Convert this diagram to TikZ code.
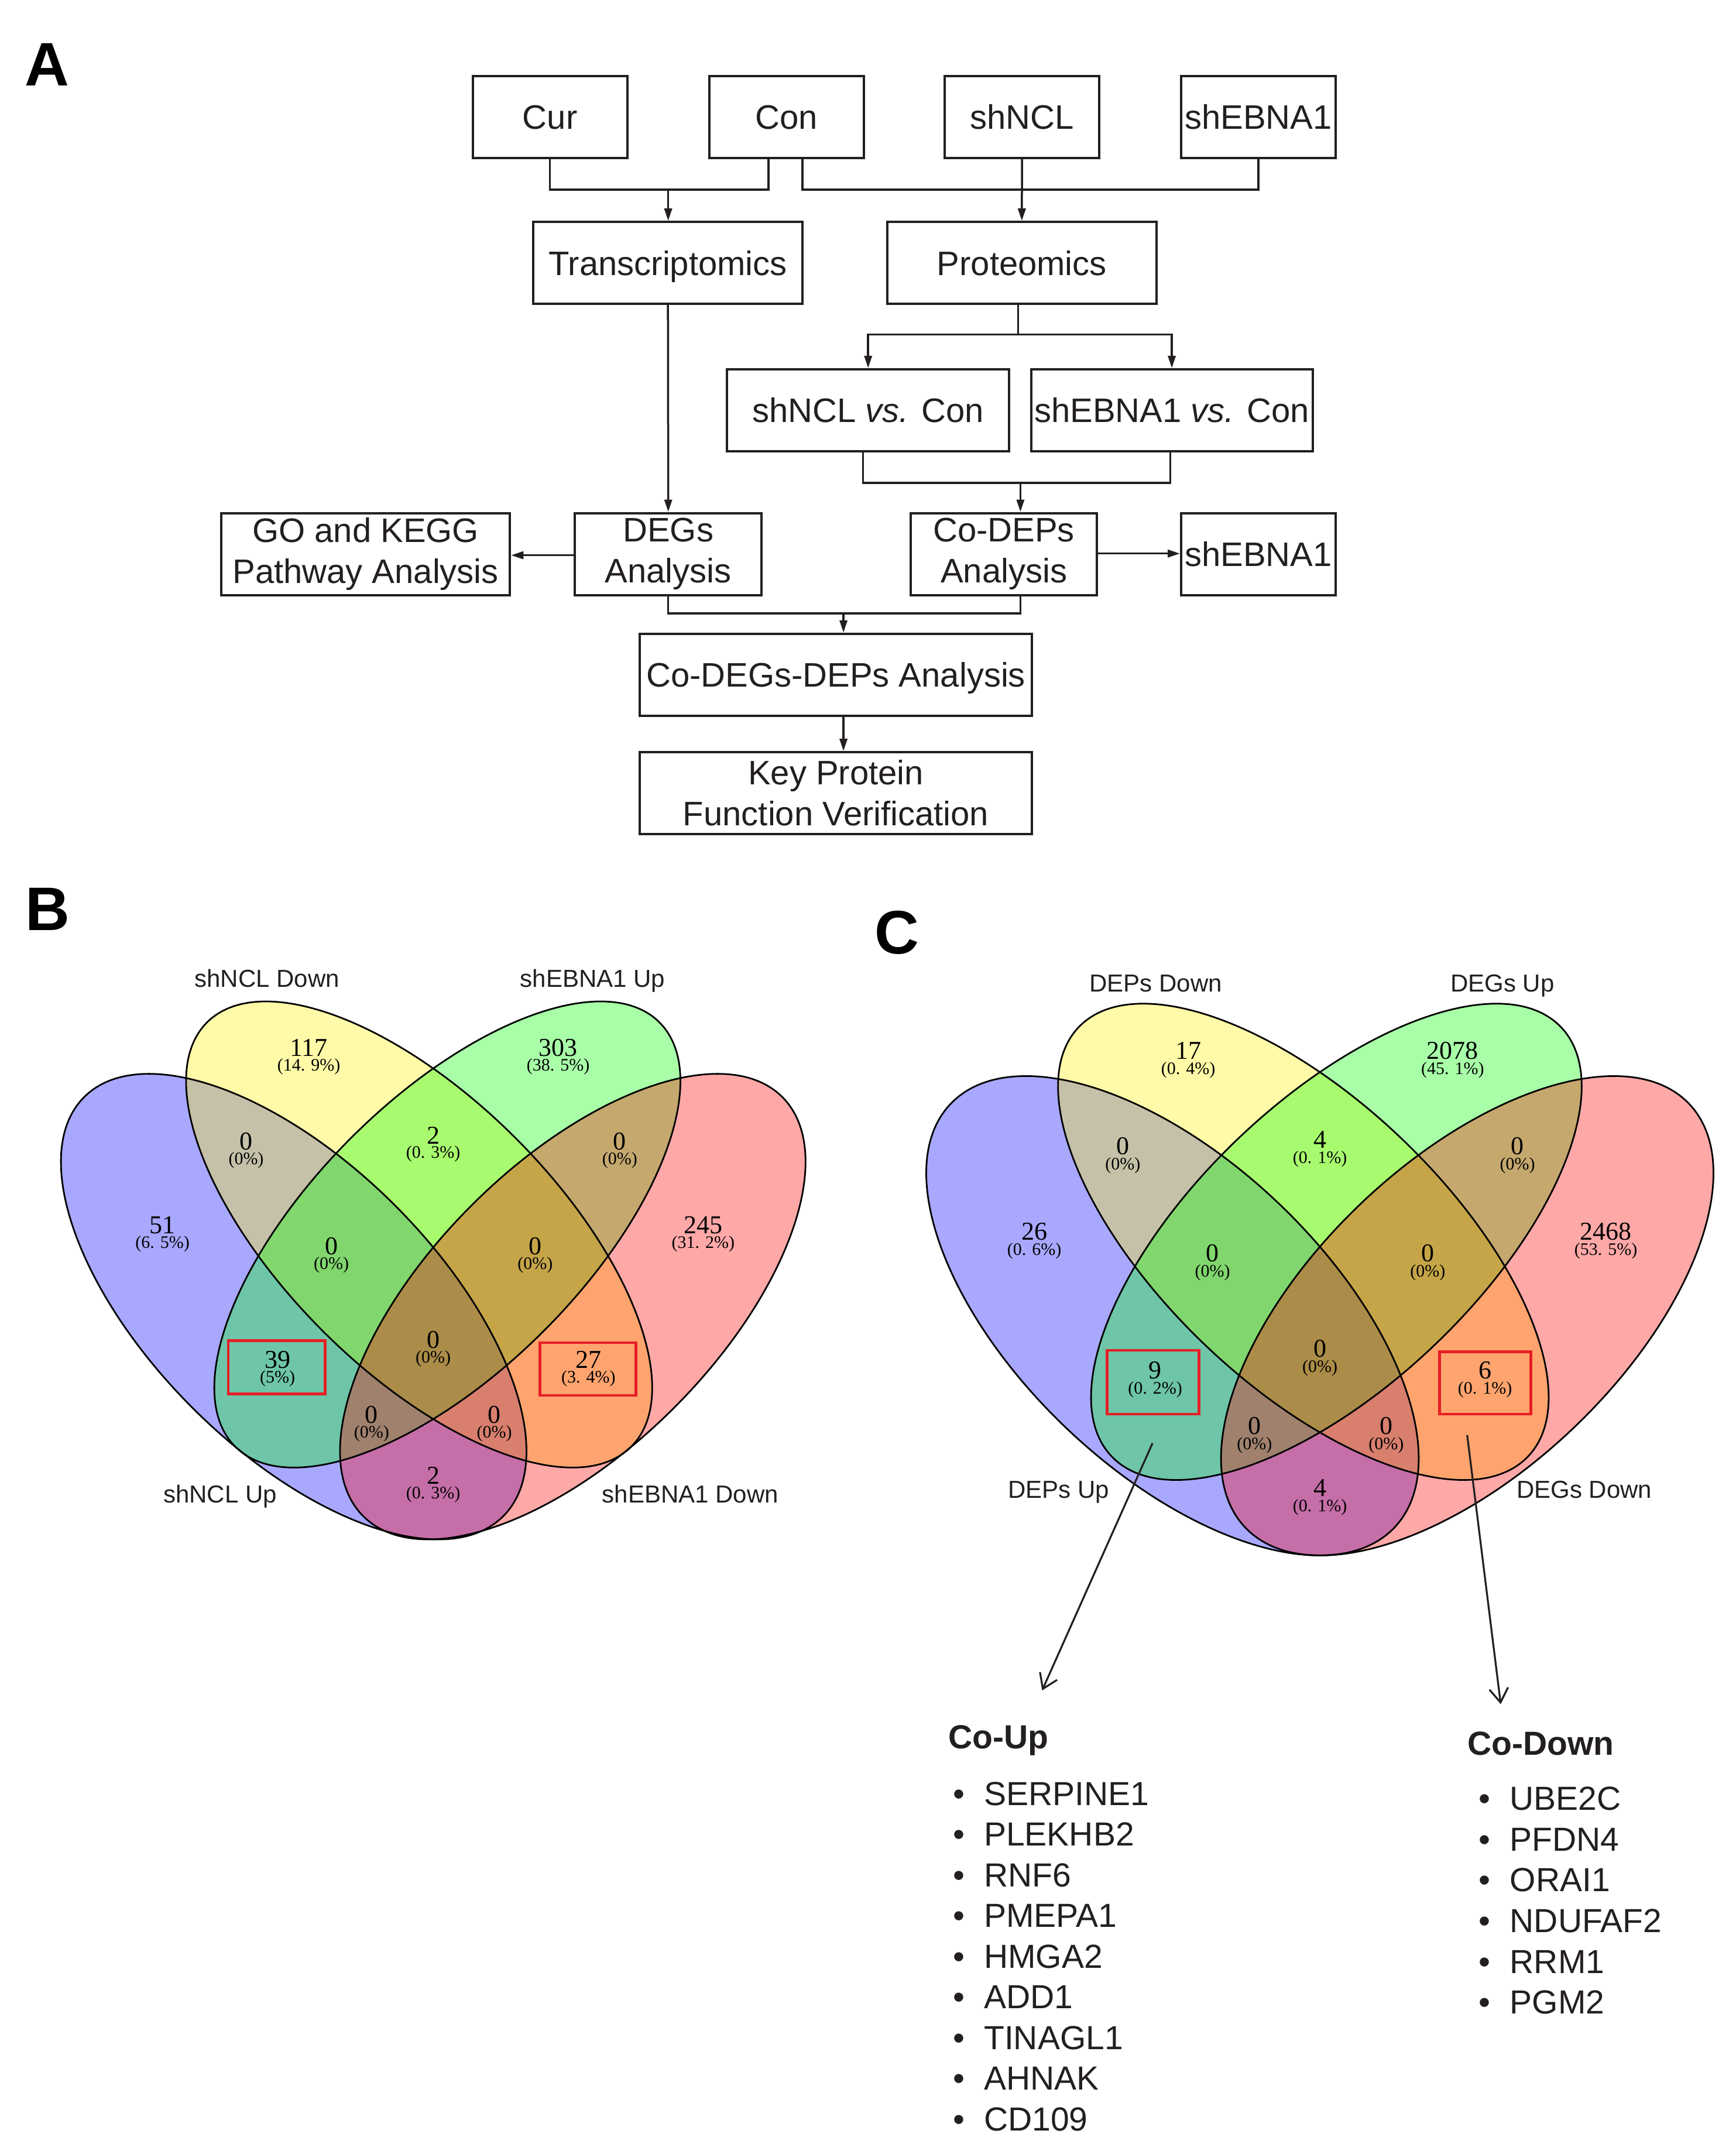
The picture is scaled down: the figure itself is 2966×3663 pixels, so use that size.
\documentclass[tikz,border=0pt]{standalone}
\usepackage{fontspec}
\setmainfont{Liberation Sans}
\newfontfamily\vennserif{Liberation Serif}
\usetikzlibrary{arrows.meta}
\newcommand\myboxfont{\fontsize{58}{70}\selectfont}
\newcommand\mypanelfont{\fontsize{105}{110}\selectfont\bfseries}
\newcommand\myvlabfont{\fontsize{42}{48}\selectfont}
\newcommand\mynumfont{\vennserif\fontsize{44}{48}\selectfont}
\newcommand\mypctfont{\vennserif\fontsize{30}{32}\selectfont}
\newcommand\mylistfont{\fontsize{57}{64}\selectfont}
\newcommand\myhdrfont{\fontsize{57}{64}\selectfont\bfseries}
\definecolor{txt}{RGB}{35,31,32}
\definecolor{hlred}{RGB}{230,30,36}
\begin{document}
\begin{tikzpicture}[x=1pt,y=-1pt,
 box/.style={draw=txt,text=txt,line width=4pt,inner sep=0pt,minimum height=140pt,font=\myboxfont,align=center},
 one/.style={text height=42pt,text depth=0pt},
 conn/.style={draw=txt,line width=3.5pt},
 arr/.style={draw=txt,line width=3.5pt,-{Triangle[length=21pt,width=13pt]}},
 vfill/.style={fill opacity=0.34},
 vline/.style={draw=black,line width=2.8pt},
 num/.style={font=\mynumfont,inner sep=0pt,text=black},
 pct/.style={font=\mypctfont,inner sep=0pt,text=black},
 vlab/.style={font=\myvlabfont,inner sep=0pt,anchor=base,text=txt},
 hl/.style={draw=hlred,line width=4.5pt},
 openarr/.style={draw=txt,line width=3.2pt,-{Straight Barb[length=24pt,width=32pt]}},
 li/.style={font=\mylistfont,inner sep=0pt,anchor=base west,text=txt},
 bul/.style={font=\mylistfont,inner sep=0pt,anchor=base,text=txt},
 hdr/.style={font=\myhdrfont,inner sep=0pt,anchor=base west,text=txt},
 panel/.style={font=\mypanelfont,inner sep=0pt}]
\fill[white] (0,0) rectangle (2966,3663);
\useasboundingbox (0,0) rectangle (2966,3663);

% ---------------- Panel A ----------------
\node[panel] (pA) at (80,110) {A};
\node[box,one,minimum width=264pt] (cur) at (939.7,199.5) {Cur};
\node[box,one,minimum width=264pt] (con) at (1343.5,199.5) {Con};
\node[box,one,minimum width=264pt] (shncl) at (1746.2,199.5) {shNCL};
\node[box,one,minimum width=264pt] (shebna) at (2150,199.5) {shEBNA1};
\node[box,one,minimum width=460pt] (trans) at (1141.2,449.2) {Transcriptomics};
\node[box,one,minimum width=460pt] (prot) at (1745.8,449.2) {Proteomics};
\node[box,one,minimum width=482pt] (vsa) at (1483.2,700.8) {shNCL \textit{vs.} Con};
\node[box,one,minimum width=481pt] (vsb) at (2002.1,700.8) {shEBNA1 \textit{vs.} Con};
\node[box,minimum width=493.2pt] (go) at (624.7,946.5) {GO and KEGG\\Pathway Analysis};
\node[box,minimum width=319.5pt] (degs) at (1141.7,946.5) {DEGs\\Analysis};
\node[box,minimum width=318.6pt] (codeps) at (1715.1,946.5) {Co-DEPs\\Analysis};
\node[box,one,minimum width=264pt] (shebnab) at (2150,946.5) {shEBNA1};
\node[box,one,minimum width=670.6pt] (codd) at (1428.1,1152.8) {Co-DEGs-DEPs Analysis};
\node[box,minimum width=670.6pt] (key) at (1428.1,1355.1) {Key Protein\\Function Verification};

\coordinate (jA) at (1141.6,323.9);
\coordinate (conL) at (1312.9,269.5);
\coordinate (conR) at (1371.2,269.5);
\coordinate (jB) at (1746.2,323.9);
\draw[conn] (cur.south) |- (jA) -| (conL);
\draw[arr] (jA) -- (jA |- trans.north);
\draw[conn] (conR) |- (jB) -| (shebna.south);
\draw[arr] (shncl.south) -- (prot.north);
\draw[arr] (trans.south) -- (degs.north);
\coordinate (jC) at (1739.5,571.6);
\draw[conn] (jC |- prot.south) -- (jC);
\draw[arr] (jC) -| (vsa.north);
\draw[arr] (jC) -| (vsb.north);
\coordinate (jD) at (1743.4,825.2);
\coordinate (vsaB) at (1474.5,770.8);
\coordinate (vsbB) at (1999.7,770.8);
\draw[conn] (vsaB) |- (jD) -| (vsbB);
\draw[arr] (jD) -- (jD |- codeps.north);
\coordinate (gA) at (1141.7,948.6);
\draw[arr] (degs.west |- gA) -- (go.east |- gA);
\draw[arr] (codeps.east |- 0,945.7) -- (shebnab.west |- 0,945.7);
\coordinate (jE) at (1441.1,1048);
\draw[conn] (degs.south) |- (jE) -| (jD |- codeps.south);
\draw[arr] (jE) -- (jE |- codd.north);
\draw[arr] (jE |- codd.south) -- (jE |- key.north);

% ---------------- Panel B ----------------
\node[panel] (pB) at (81,1553) {B};
\path[fill=blue,vfill,shift={(501.8,2232.3)},rotate=-45] (0,0) ellipse [x radius=506.3pt,y radius=244.6pt];
\path[fill=yellow,vfill,shift={(716.1,2109.1)},rotate=-45] (0,0) ellipse [x radius=512.5pt,y radius=233pt];
\path[fill=green,vfill,shift={(764.3,2109.1)},rotate=45] (0,0) ellipse [x radius=512.5pt,y radius=233pt];
\path[fill=red,vfill,shift={(978.6,2232.3)},rotate=45] (0,0) ellipse [x radius=506.3pt,y radius=244.6pt];
\path[vline,shift={(501.8,2232.3)},rotate=-45] (0,0) ellipse [x radius=506.3pt,y radius=244.6pt];
\path[vline,shift={(716.1,2109.1)},rotate=-45] (0,0) ellipse [x radius=512.5pt,y radius=233pt];
\path[vline,shift={(764.3,2109.1)},rotate=45] (0,0) ellipse [x radius=512.5pt,y radius=233pt];
\path[vline,shift={(978.6,2232.3)},rotate=45] (0,0) ellipse [x radius=506.3pt,y radius=244.6pt];

\node[vlab] (bl1) at (456.3,1686.6) {shNCL Down};
\node[vlab] (bl2) at (1012.5,1686.6) {shEBNA1 Up};
\node[vlab] (bl3) at (375.9,2567.9) {shNCL Up};
\node[vlab] (bl4) at (1179.5,2567.9) {shEBNA1 Down};

\node[num] (bn1) at (527.7,1790.4) {117}; \node[pct] (bp1) at (527.7,1822.5) {(14. 9\%)};
\node[num] (bn2) at (953.6,1790.4) {303}; \node[pct] (bp2) at (953.6,1822.5) {(38. 5\%)};
\node[num] (bn3) at (420.5,1950.2) {0}; \node[pct] (bp3) at (420.5,1982.3) {(0\%)};
\node[num] (bn4) at (740.2,1939.5) {2}; \node[pct] (bp4) at (740.2,1971.6) {(0. 3\%)};
\node[num] (bn5) at (1058.9,1950.2) {0}; \node[pct] (bp5) at (1058.9,1982.3) {(0\%)};
\node[num] (bn6) at (277.7,2093) {51}; \node[pct] (bp6) at (277.7,2125.2) {(6. 5\%)};
\node[num] (bn7) at (566.1,2128.8) {0}; \node[pct] (bp7) at (566.1,2160.9) {(0\%)};
\node[num] (bn8) at (914.3,2128.8) {0}; \node[pct] (bp8) at (914.3,2160.9) {(0\%)};
\node[num] (bn9) at (1201.4,2093) {245}; \node[pct] (bp9) at (1201.4,2125.2) {(31. 2\%)};
\node[num] (bn10) at (740.2,2289.5) {0}; \node[pct] (bp10) at (740.2,2321.6) {(0\%)};
\node[num] (bn11) at (474.1,2323.4) {39}; \node[pct] (bp11) at (474.1,2355.5) {(5\%)};
\node[num] (bn12) at (1005.4,2323.4) {27}; \node[pct] (bp12) at (1005.4,2355.5) {(3. 4\%)};
\node[num] (bn13) at (634.8,2417.1) {0}; \node[pct] (bp13) at (634.8,2449.3) {(0\%)};
\node[num] (bn14) at (844.6,2417.1) {0}; \node[pct] (bp14) at (844.6,2449.3) {(0\%)};
\node[num] (bn15) at (740.2,2520.7) {2}; \node[pct] (bp15) at (740.2,2552.9) {(0. 3\%)};
\draw[hl] (390.2,2290.4) rectangle (555.4,2381.4);
\draw[hl] (922.7,2293.9) rectangle (1086.6,2384.1);

% ---------------- Panel C ----------------
\node[panel] (pC) at (1532,1593) {C};
\path[fill=blue,vfill,shift={(2003.2,2247.9)},rotate=-43.7] (0,0) ellipse [x radius=524.2pt,y radius=264.1pt];
\path[fill=yellow,vfill,shift={(2226.8,2121.6)},rotate=-43.7] (0,0) ellipse [x radius=530.9pt,y radius=243.4pt];
\path[fill=green,vfill,shift={(2283.2,2121.6)},rotate=43.7] (0,0) ellipse [x radius=530.9pt,y radius=243.4pt];
\path[fill=red,vfill,shift={(2506.8,2247.9)},rotate=43.7] (0,0) ellipse [x radius=524.2pt,y radius=264.1pt];
\path[vline,shift={(2003.2,2247.9)},rotate=-43.7] (0,0) ellipse [x radius=524.2pt,y radius=264.1pt];
\path[vline,shift={(2226.8,2121.6)},rotate=-43.7] (0,0) ellipse [x radius=530.9pt,y radius=243.4pt];
\path[vline,shift={(2283.2,2121.6)},rotate=43.7] (0,0) ellipse [x radius=530.9pt,y radius=243.4pt];
\path[vline,shift={(2506.8,2247.9)},rotate=43.7] (0,0) ellipse [x radius=524.2pt,y radius=264.1pt];

\node[vlab] (cl1) at (1974.6,1694.9) {DEPs Down};
\node[vlab] (cl2) at (2566.7,1694.9) {DEGs Up};
\node[vlab] (cl3) at (1808.6,2559.9) {DEPs Up};
\node[vlab] (cl4) at (2706.8,2559.9) {DEGs Down};

\node[num] (cn1) at (2030,1795.2) {17}; \node[pct] (cp1) at (2030,1828.4) {(0. 4\%)};
\node[num] (cn2) at (2481.8,1795.2) {2078}; \node[pct] (cp2) at (2481.8,1828.4) {(45. 1\%)};
\node[num] (cn3) at (1918.4,1958.4) {0}; \node[pct] (cp3) at (1918.4,1991.6) {(0\%)};
\node[num] (cn4) at (2255,1947.3) {4}; \node[pct] (cp4) at (2255,1980.5) {(0. 1\%)};
\node[num] (cn5) at (2592.5,1958.4) {0}; \node[pct] (cp5) at (2592.5,1991.6) {(0\%)};
\node[num] (cn6) at (1767.1,2104.1) {26}; \node[pct] (cp6) at (1767.1,2137.3) {(0. 6\%)};
\node[num] (cn7) at (2071.5,2141) {0}; \node[pct] (cp7) at (2071.5,2174.2) {(0\%)};
\node[num] (cn8) at (2439.4,2141) {0}; \node[pct] (cp8) at (2439.4,2174.2) {(0\%)};
\node[num] (cn9) at (2743.7,2104.1) {2468}; \node[pct] (cp9) at (2743.7,2137.3) {(53. 5\%)};
\node[num] (cn10) at (2255,2304.2) {0}; \node[pct] (cp10) at (2255,2337.4) {(0\%)};
\node[num] (cn11) at (1973.7,2341.1) {9}; \node[pct] (cp11) at (1973.7,2374.3) {(0. 2\%)};
\node[num] (cn12) at (2537.1,2341.1) {6}; \node[pct] (cp12) at (2537.1,2374.3) {(0. 1\%)};
\node[num] (cn13) at (2143.4,2436.1) {0}; \node[pct] (cp13) at (2143.4,2469.3) {(0\%)};
\node[num] (cn14) at (2368.4,2436.1) {0}; \node[pct] (cp14) at (2368.4,2469.3) {(0\%)};
\node[num] (cn15) at (2255,2542.1) {4}; \node[pct] (cp15) at (2255,2575.3) {(0. 1\%)};
\draw[hl] (1891.6,2307) rectangle (2048.4,2415.8);
\draw[hl] (2459.7,2309.7) rectangle (2615.5,2415.8);

\coordinate (ua) at (1969.1,2465.6);
\coordinate (ub) at (1780.5,2888);
\coordinate (da) at (2506.7,2451.7);
\coordinate (db) at (2564,2911.5);
\draw[openarr] (ua) -- (ub);
\draw[openarr] (da) -- (db);

\node[hdr] (coup) at (1620.4,2987.5) {Co-Up};
\node[hdr] (codown) at (2507.3,2998.3) {Co-Down};

\node[bul] (ub1) at (1638.5,3084) {•}; \node[li] (u1) at (1681,3084) {SERPINE1};
\node[bul] (ub2) at (1638.5,3153.5) {•}; \node[li] (u2) at (1681,3153.5) {PLEKHB2};
\node[bul] (ub3) at (1638.5,3223) {•}; \node[li] (u3) at (1681,3223) {RNF6};
\node[bul] (ub4) at (1638.5,3292.5) {•}; \node[li] (u4) at (1681,3292.5) {PMEPA1};
\node[bul] (ub5) at (1638.5,3362) {•}; \node[li] (u5) at (1681,3362) {HMGA2};
\node[bul] (ub6) at (1638.5,3431.5) {•}; \node[li] (u6) at (1681,3431.5) {ADD1};
\node[bul] (ub7) at (1638.5,3501) {•}; \node[li] (u7) at (1681,3501) {TINAGL1};
\node[bul] (ub8) at (1638.5,3570.5) {•}; \node[li] (u8) at (1681,3570.5) {AHNAK};
\node[bul] (ub9) at (1638.5,3640) {•}; \node[li] (u9) at (1681,3640) {CD109};

\node[bul] (db1) at (2536.2,3092.8) {•}; \node[li] (d1) at (2579.5,3092.8) {UBE2C};
\node[bul] (db2) at (2536.2,3162.4) {•}; \node[li] (d2) at (2579.5,3162.4) {PFDN4};
\node[bul] (db3) at (2536.2,3231.9) {•}; \node[li] (d3) at (2579.5,3231.9) {ORAI1};
\node[bul] (db4) at (2536.2,3301.5) {•}; \node[li] (d4) at (2579.5,3301.5) {NDUFAF2};
\node[bul] (db5) at (2536.2,3371) {•}; \node[li] (d5) at (2579.5,3371) {RRM1};
\node[bul] (db6) at (2536.2,3440.6) {•}; \node[li] (d6) at (2579.5,3440.6) {PGM2};
\end{tikzpicture}
\end{document}
